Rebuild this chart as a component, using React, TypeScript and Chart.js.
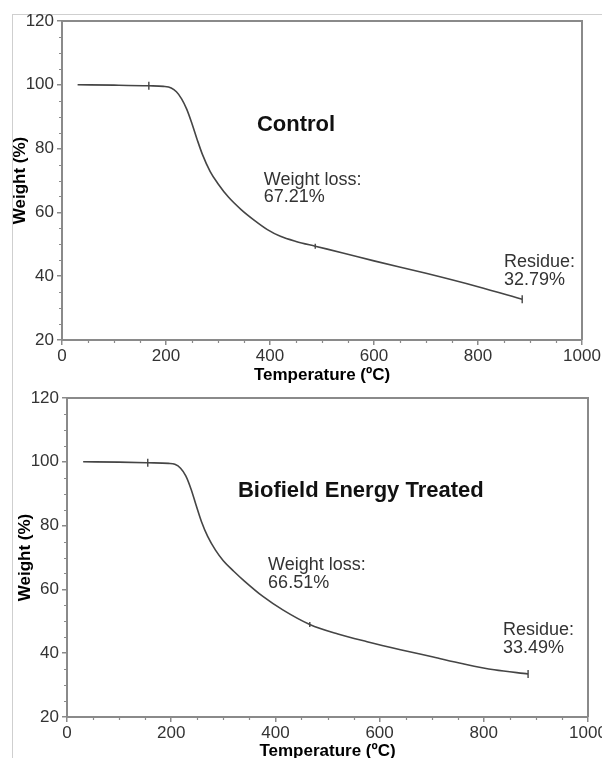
import React, { useEffect, useRef } from "react";
import { Chart, registerables } from "chart.js";

Chart.register(...registerables);

// ---------- data ----------
const controlTemp = [30, 100, 167, 195, 210, 220, 230, 240, 250, 260, 270, 285, 300, 320, 345, 370, 395, 420, 450, 487, 540, 600, 700, 800, 885];
const controlWeight = [100, 99.9, 99.7, 99.5, 99.0, 97.8, 95.6, 92.3, 87.8, 82.8, 78.2, 72.8, 69.0, 64.8, 60.8, 57.5, 54.6, 52.5, 50.9, 49.4, 47.3, 44.8, 40.9, 36.7, 32.8];
const controlMarkerTemp = [167, 487, 885];
const controlMarkerWeight = [99.7, 49.4, 32.8];

const treatedTemp = [31, 100, 155, 195, 207, 218, 228, 238, 248, 258, 270, 285, 300, 320, 340, 376, 415, 466, 520, 576, 640, 703, 760, 820, 885];
const treatedWeight = [100, 99.9, 99.7, 99.5, 99.2, 98.0, 95.6, 91.5, 86.3, 81.3, 76.6, 72.3, 69.0, 65.7, 62.7, 57.8, 53.5, 49.0, 46.0, 43.6, 41.1, 38.8, 36.7, 34.8, 33.5];
const treatedMarkerTemp = [155, 466, 885];
const treatedMarkerWeight = [99.7, 49.0, 33.5];

const markerSizes = [4, 2.5, 4];

const xMin = 0;
const xMax = 1000;
const xStep = 200;
const xMinorStep = 50;
const yMin = 20;
const yMax = 120;
const yStep = 20;
const yMinorStep = 5;

const xTitle = "Temperature (ºC)";
const yTitle = "Weight (%)";

const controlLabels = { title: "Control", loss: ["Weight loss:", "67.21%"], residue: ["Residue:", "32.79%"] };
const treatedLabels = { title: "Biofield Energy Treated", loss: ["Weight loss:", "66.51%"], residue: ["Residue:", "33.49%"] };

// annotation anchors in data units (temperature, weight)
const controlAnchors = { title: [450, 87.4], loss: [388, 70.1, 64.8], residue: [850, 44.4, 38.8] };
const treatedAnchors = { title: [564, 90.8], loss: [386, 67.6, 62], residue: [837, 47.3, 41.6] };

const FONT = "'Liberation Sans', Arial, Helvetica, sans-serif";
const AXIS = "#8a8a8a";
const LINE = "#454545";
const TEXT = "#333333";

type PanelProps = {
  temps: number[];
  weights: number[];
  markerT: number[];
  markerW: number[];
  labels: { title: string; loss: string[]; residue: string[] };
  anchors: { title: number[]; loss: number[]; residue: number[] };
  top: number;
  height: number;
  padTop: number;
  padRight: number;
  yAxisWidth: number;
  xAxisHeight: number;
  yTitlePad: number;
  xTitlePad: number;
};

function Panel(p: PanelProps) {
  const ref = useRef<HTMLCanvasElement | null>(null);

  useEffect(() => {
    if (!ref.current) return;
    const decor = {
      id: "decor",
      afterDraw(chart: any) {
        const ctx = chart.ctx;
        const a = chart.chartArea;
        const xs = chart.scales.x;
        const ys = chart.scales.y;
        ctx.save();
        // box (top & right)
        ctx.strokeStyle = AXIS;
        ctx.lineWidth = 2;
        ctx.beginPath();
        ctx.moveTo(a.left, a.top);
        ctx.lineTo(a.right, a.top);
        ctx.lineTo(a.right, a.bottom);
        ctx.stroke();
        // minor ticks
        ctx.lineWidth = 1.2;
        ctx.beginPath();
        for (let v = yMin + yMinorStep; v < yMax; v += yMinorStep) {
          if (v % yStep === 0) continue;
          const y = Math.round(ys.getPixelForValue(v)) + 0.5;
          ctx.moveTo(a.left - 3, y);
          ctx.lineTo(a.left, y);
        }
        for (let v = xMin + xMinorStep; v < xMax; v += xMinorStep) {
          if (v % xStep === 0) continue;
          const x = Math.round(xs.getPixelForValue(v)) + 0.5;
          ctx.moveTo(x, a.bottom);
          ctx.lineTo(x, a.bottom + 3);
        }
        ctx.stroke();
        // annotations
        ctx.textBaseline = "middle";
        ctx.fillStyle = "#111";
        ctx.font = `bold 22px ${FONT}`;
        ctx.textAlign = "center";
        ctx.fillText(p.labels.title, xs.getPixelForValue(p.anchors.title[0]), ys.getPixelForValue(p.anchors.title[1]));
        ctx.textAlign = "left";
        ctx.fillStyle = TEXT;
        ctx.font = `18px ${FONT}`;
        ctx.fillText(p.labels.loss[0], xs.getPixelForValue(p.anchors.loss[0]), ys.getPixelForValue(p.anchors.loss[1]));
        ctx.fillText(p.labels.loss[1], xs.getPixelForValue(p.anchors.loss[0]), ys.getPixelForValue(p.anchors.loss[2]));
        ctx.fillText(p.labels.residue[0], xs.getPixelForValue(p.anchors.residue[0]), ys.getPixelForValue(p.anchors.residue[1]));
        ctx.fillText(p.labels.residue[1], xs.getPixelForValue(p.anchors.residue[0]), ys.getPixelForValue(p.anchors.residue[2]));
        ctx.restore();
      },
    };

    const chart = new Chart(ref.current, {
      type: "line",
      data: {
        datasets: [
          {
            data: p.temps.map((t, i) => ({ x: t, y: p.weights[i] })),
            borderColor: LINE,
            borderWidth: 1.6,
            pointRadius: 0,
            cubicInterpolationMode: "monotone",
            fill: false,
          } as any,
          {
            type: "scatter",
            data: p.markerT.map((t, i) => ({ x: t, y: p.markerW[i] })),
            pointStyle: "line",
            rotation: 90,
            pointRadius: markerSizes,
            borderColor: LINE,
            borderWidth: 1.4,
            showLine: false,
          } as any,
        ],
      },
      options: {
        animation: false,
        responsive: false,
        maintainAspectRatio: false,
        events: [],
        layout: { padding: { left: 0, top: p.padTop, right: p.padRight, bottom: 0 } },
        plugins: { legend: { display: false }, tooltip: { enabled: false } },
        scales: {
          x: {
            type: "linear",
            min: xMin,
            max: xMax,
            ticks: {
              stepSize: xStep,
              color: TEXT,
              padding: 1,
              maxRotation: 0,
              autoSkip: false,
              font: { family: FONT, size: 17 },
              callback: (v: any) => String(v),
            },
            grid: { drawOnChartArea: false, tickLength: 5, color: AXIS, lineWidth: 1.5 },
            border: { color: AXIS, width: 2 },
            title: { display: true, text: xTitle, color: "#000", padding: { top: 0, bottom: p.xTitlePad }, font: { family: FONT, size: 17, weight: "bold" } },
            afterFit: (s: any) => {
              s.height = p.xAxisHeight;
              s.paddingLeft = 0;
              s.paddingRight = 0;
            },
          },
          y: {
            type: "linear",
            min: yMin,
            max: yMax,
            ticks: { stepSize: yStep, color: TEXT, padding: 3, font: { family: FONT, size: 17 }, callback: (v: any) => String(v) },
            grid: { drawOnChartArea: false, tickLength: 5, color: AXIS, lineWidth: 1.5 },
            border: { color: AXIS, width: 2 },
            title: { display: true, text: yTitle, color: "#000", padding: { top: p.yTitlePad, bottom: 0 }, font: { family: FONT, size: 17, weight: "bold" } },
            afterFit: (s: any) => {
              s.width = p.yAxisWidth;
              s.paddingTop = 0;
              s.paddingBottom = 0;
            },
          },
        },
      } as any,
      plugins: [decor],
    });
    return () => chart.destroy();
  }, []);

  return (
    <canvas
      ref={ref}
      width={602}
      height={p.height}
      style={{ position: "absolute", left: 0, top: p.top, width: 602, height: p.height }}
    />
  );
}

export default function App() {
  return (
    <div style={{ position: "absolute", left: 0, top: 0, width: 602, height: 758, overflow: "hidden", background: "#fff" }}>
      <div style={{ position: "absolute", left: 12, top: 14, width: 590, height: 744, borderLeft: "1px solid #cfcfcf", borderTop: "1px solid #cfcfcf" }} />
      <Panel
        temps={controlTemp}
        weights={controlWeight}
        markerT={controlMarkerTemp}
        markerW={controlMarkerWeight}
        labels={controlLabels}
        anchors={controlAnchors}
        top={0}
        height={388}
        padTop={21}
        padRight={20}
        yAxisWidth={62}
        xAxisHeight={48}
        yTitlePad={10}
        xTitlePad={2}
      />
      <Panel
        temps={treatedTemp}
        weights={treatedWeight}
        markerT={treatedMarkerTemp}
        markerW={treatedMarkerWeight}
        labels={treatedLabels}
        anchors={treatedAnchors}
        top={380}
        height={378}
        padTop={18}
        padRight={14}
        yAxisWidth={67}
        xAxisHeight={41}
        yTitlePad={15}
        xTitlePad={-4}
      />
    </div>
  );
}
